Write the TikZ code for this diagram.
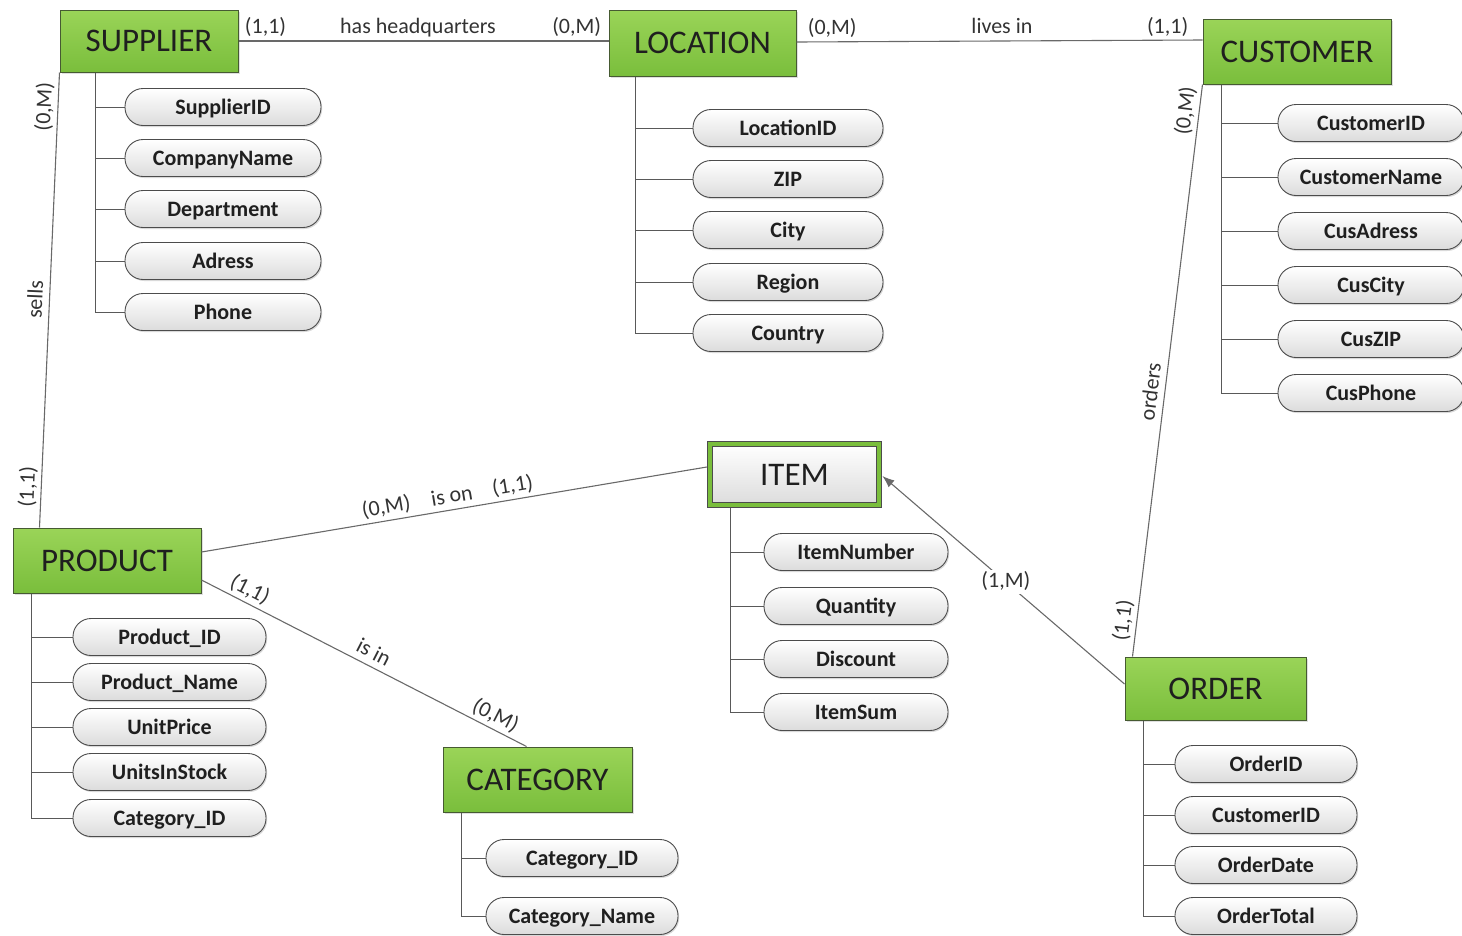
\documentclass[tikz,border=0pt]{standalone}
\usepackage{fontspec}
\setmainfont{Carlito}
\usetikzlibrary{shadows,arrows.meta,calc}

\definecolor{entgreenT}{RGB}{154,212,88}
\definecolor{entgreenB}{RGB}{122,190,60}
\definecolor{entedge}{RGB}{70,90,50}
\definecolor{linegray}{RGB}{105,105,105}
\definecolor{pillgray}{RGB}{220,220,220}

\tikzset{
  entity/.style={draw=entedge, line width=1pt, top color=entgreenT, bottom color=entgreenB,
    font=\fontsize{33}{36}\selectfont, text=black!88, inner sep=0pt,
    drop shadow={shadow xshift=1.5pt, shadow yshift=-1.5pt, opacity=0.25}},
  weakentity/.style={draw=black!70, double=entgreenB, double distance=4pt, line width=0.8pt,
    top color=white, bottom color=pillgray,
    font=\fontsize{33}{36}\selectfont, text=black!88, inner sep=0pt,
    drop shadow={shadow xshift=1.5pt, shadow yshift=-1.5pt, opacity=0.25}},
  attr/.style={draw=black!70, line width=0.9pt, rounded corners=18pt, top color=white,
    bottom color=pillgray, minimum height=37pt, font=\fontsize{22}{24}\selectfont\bfseries,
    text=black!88, inner sep=0pt, text height=14pt, text depth=0pt,
    drop shadow={shadow xshift=1.2pt, shadow yshift=-1.5pt, opacity=0.3}},
  rel/.style={draw=linegray, line width=1.1pt},
  stem/.style={draw=black!65, line width=1pt},
  card/.style={font=\fontsize{22}{24}\selectfont, text=black!80, inner sep=1.5pt,
    text height=16pt, text depth=5pt},
}

\begin{document}
\begin{tikzpicture}[x=1pt,y=-1pt]
\useasboundingbox (0,0) rectangle (1462,935);

% entities
\node[entity, minimum width=178pt, minimum height=62pt] (sup)  at (149,41)     {SUPPLIER};
\node[entity, minimum width=187pt, minimum height=66pt] (loc)  at (702.5,43)   {LOCATION};
\node[entity, minimum width=188pt, minimum height=65pt] (cus)  at (1297,51.5)  {CUSTOMER};
\node[entity, minimum width=188pt, minimum height=65pt] (prod) at (107,560.5)  {PRODUCT};
\node[entity, minimum width=189pt, minimum height=65pt] (cat)  at (537.5,779.5){CATEGORY};
\node[entity, minimum width=181pt, minimum height=63pt] (ord)  at (1215.5,688.5){ORDER};
\node[weakentity, minimum width=169pt, minimum height=61pt] (item) at (794.5,474.5) {ITEM};

% attribute stems
\coordinate (supStem)  at ([xshift=36pt]sup.south west);
\coordinate (locStem)  at ([xshift=27pt]loc.south west);
\coordinate (cusStem)  at ([xshift=19pt]cus.south west);
\coordinate (prodStem) at ([xshift=19pt]prod.south west);
\coordinate (itemStem) at ([xshift=21pt,yshift=-2.8pt]item.south west);
\coordinate (catStem)  at ([xshift=19pt]cat.south west);
\coordinate (ordStem)  at ([xshift=19pt]ord.south west);

% attributes
\foreach \t/\y [count=\i] in {SupplierID/107,CompanyName/158,Department/209,Adress/261,Phone/312}{
  \draw[stem] (supStem) |- (223,\y);
  \node[attr, minimum width=196pt] (supA\i) at (223,\y) {\t};
}
\foreach \t/\y [count=\i] in {LocationID/128,ZIP/179,City/230,Region/282,Country/333}{
  \draw[stem] (locStem) |- (788,\y);
  \node[attr, minimum width=190pt] (locA\i) at (788,\y) {\t};
}
\foreach \t/\y [count=\i] in {CustomerID/123,CustomerName/177,CusAdress/231,CusCity/285,CusZIP/339,CusPhone/393}{
  \draw[stem] (cusStem) |- (1371,\y);
  \node[attr, minimum width=186pt] (cusA\i) at (1371,\y) {\t};
}
\foreach \t/\y [count=\i] in {Product\_ID/637,Product\_Name/682,UnitPrice/727,UnitsInStock/772,Category\_ID/818}{
  \draw[stem] (prodStem) |- (169.5,\y);
  \node[attr, minimum width=193pt] (prodA\i) at (169.5,\y) {\t};
}
\foreach \t/\y [count=\i] in {ItemNumber/552,Quantity/606,Discount/659,ItemSum/712}{
  \draw[stem] (itemStem) |- (856,\y);
  \node[attr, minimum width=184pt] (itemA\i) at (856,\y) {\t};
}
\foreach \t/\y [count=\i] in {Category\_ID/858,Category\_Name/916}{
  \draw[stem] (catStem) |- (582,\y);
  \node[attr, minimum width=192pt] (catA\i) at (582,\y) {\t};
}
\foreach \t/\y [count=\i] in {OrderID/764,CustomerID/815,OrderDate/865,OrderTotal/916}{
  \draw[stem] (ordStem) |- (1266,\y);
  \node[attr, minimum width=182pt] (ordA\i) at (1266,\y) {\t};
}

% relationships
\draw[rel] (sup.east) --
  node[card,above,pos=0.073]{(1,1)}
  node[card,above,pos=0.485]{has headquarters}
  node[card,above,pos=0.914]{(0,M)} (sup.east -| loc.west);

\draw[rel] ([yshift=1pt]loc.east) --
  node[card,above,pos=0.088]{(0,M)}
  node[card,above,pos=0.506]{lives in}
  node[card,above,pos=0.914]{(1,1)} ([yshift=11.5pt]cus.west);

\draw[rel] (sup.south west) --
  node[card,above,sloped,pos=0.077]{(0,M)}
  node[card,above,sloped,pos=0.5]{sells}
  node[card,above,sloped,pos=0.912]{(1,1)} ([xshift=27pt]prod.north west);

\draw[rel] ([yshift=8.5pt]prod.east) --
  node[card,above,sloped,pos=0.37]{(0,M)}
  node[card,above,sloped,pos=0.5]{is on}
  node[card,above,sloped,pos=0.62]{(1,1)} ([xshift=-2.8pt,yshift=7.5pt]item.west);

\draw[rel] ([yshift=-19.5pt]prod.east) --
  node[card,above,sloped,pos=0.13]{(1,1)}
  node[card,above,sloped,pos=0.51]{is in}
  node[card,above,sloped,pos=0.886]{(0,M)} ([xshift=84pt]cat.north west);

\draw[rel] (cus.south west) --
  node[card,above,sloped,pos=0.049]{(0,M)}
  node[card,above,sloped,pos=0.54]{orders}
  node[card,above,sloped,pos=0.94]{(1,1)} ([xshift=8pt]ord.north west);

\draw[rel, -{Latex[length=12pt,width=9pt]}] ([yshift=4.5pt]ord.west) --
  node[card, fill=white, pos=0.49]{(1,M)} ([xshift=3pt,yshift=-1.5pt]item.east);

\end{tikzpicture}
\end{document}
